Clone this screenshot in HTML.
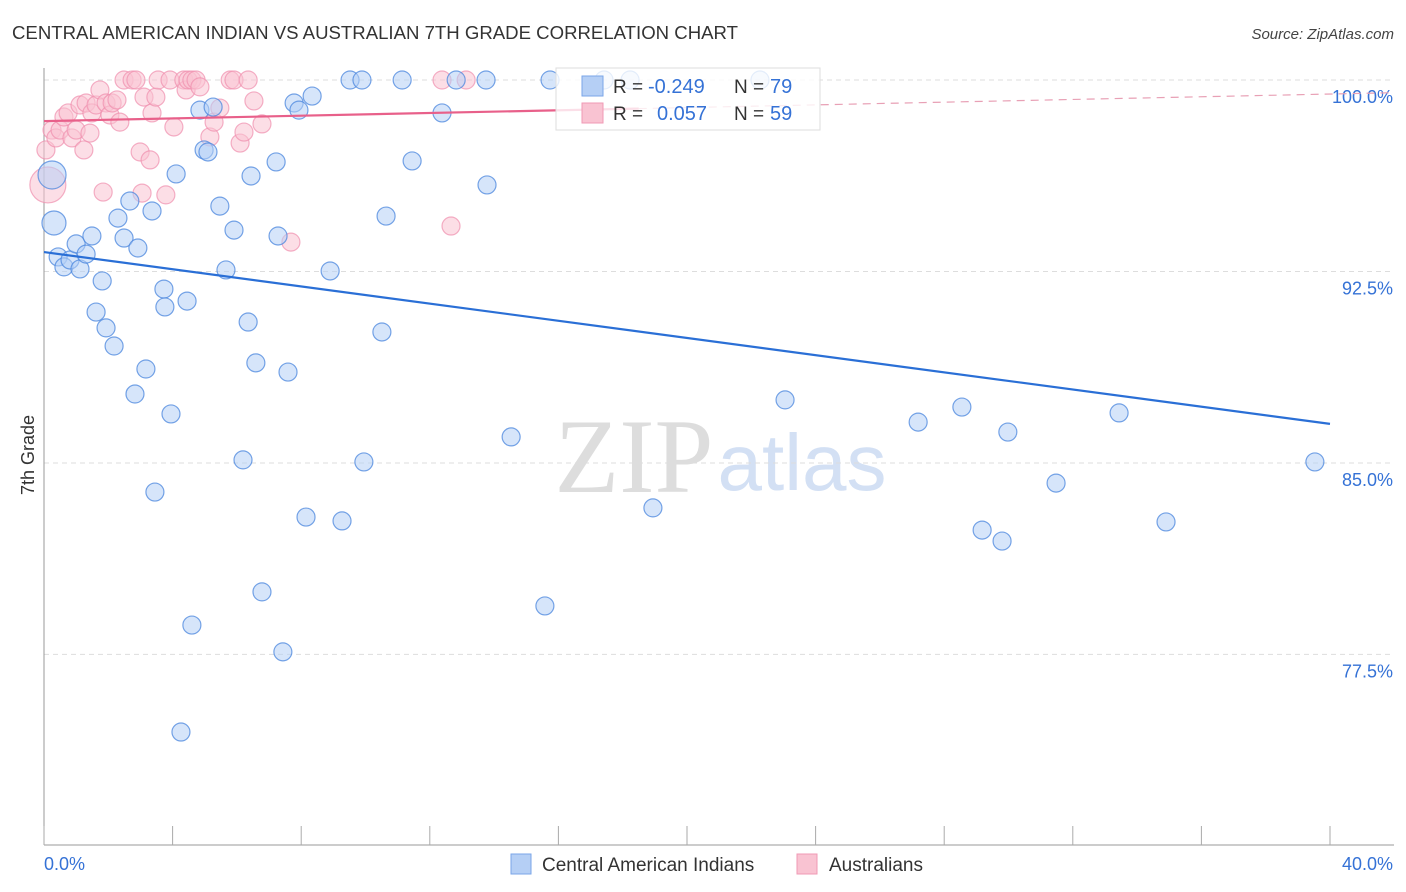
<!DOCTYPE html>
<html><head><meta charset="utf-8"><style>
body{margin:0;background:#fff;font-family:"Liberation Sans",sans-serif;}
#wrap{position:relative;width:1406px;height:892px;overflow:hidden;}
</style></head><body>
<div id="wrap">
<svg id="svg" width="1406" height="892" xmlns="http://www.w3.org/2000/svg">
<text x="12" y="39" font-size="18.6" fill="#333">CENTRAL AMERICAN INDIAN VS AUSTRALIAN 7TH GRADE CORRELATION CHART</text>
<text x="1394" y="39" font-size="15" fill="#444" text-anchor="end" font-style="italic">Source: ZipAtlas.com</text>
<text x="634" y="492" font-size="106" fill="#ddd" font-family="Liberation Serif,serif" text-anchor="middle">ZIP</text>
<text x="802" y="490" font-size="80" fill="#d3e0f4" text-anchor="middle">atlas</text>
<g id="grid"></g>
<g id="axes"></g>
<g id="pts"></g>
<g id="lines"></g>
<text x="34" y="455" font-size="18" fill="#333" text-anchor="middle" transform="rotate(-90 34 455)">7th Grade</text>
<g>
<rect x="556" y="68" width="264" height="62" fill="#fff" fill-opacity="0.8" stroke="#ddd"/>
<rect x="582" y="76" width="21" height="20" fill="#b5cff5" stroke="#7aa6e8"/>
<rect x="582" y="103" width="21" height="20" fill="#f9c3d2" stroke="#f09ab4"/>
<text x="613" y="93" font-size="19" fill="#333">R = </text><text x="648" y="93" font-size="20" fill="#3572d6">-0.249</text>
<text x="734" y="93" font-size="19" fill="#333">N = </text><text x="770" y="93" font-size="20" fill="#3572d6">79</text>
<text x="613" y="120" font-size="19" fill="#333">R = </text><text x="657" y="120" font-size="20" fill="#3572d6">0.057</text>
<text x="734" y="120" font-size="19" fill="#333">N = </text><text x="770" y="120" font-size="20" fill="#3572d6">59</text>
</g>
<g>
<rect x="511" y="854" width="20" height="20" fill="#b5cff5" stroke="#7aa6e8"/>
<text x="542" y="871" font-size="19" fill="#333">Central American Indians</text>
<rect x="797" y="854" width="20" height="20" fill="#f9c3d2" stroke="#f09ab4"/>
<text x="829" y="871" font-size="19" fill="#333">Australians</text>
</g>
</svg>
</div>
<script>
const yTicks=[100,92.5,85,77.5];
const yTickLabels=["100.0%","92.5%","85.0%","77.5%"];
const xTickLabels=["0.0%","40.0%"];
const blueX=[0.25,0.31,0.44,0.62,0.81,1.0,1.12,1.31,1.49,1.62,1.81,1.93,2.18,2.3,2.49,2.67,2.83,2.92,3.17,3.36,3.45,3.73,3.76,3.95,4.11,4.26,4.45,4.6,4.85,4.98,5.1,5.26,5.47,5.66,5.91,6.19,6.35,6.44,6.59,6.78,7.22,7.28,7.43,7.59,7.78,7.93,8.15,8.34,8.9,9.27,9.52,9.89,9.95,10.51,10.64,11.14,11.45,12.38,12.82,13.75,13.78,14.53,15.58,15.74,17.42,18.23,18.94,22.27,23.05,27.19,28.55,29.18,29.8,29.98,31.48,33.44,34.9,39.53];
const blueY=[96.28,94.4,93.07,92.68,92.95,93.58,92.6,93.18,93.89,90.91,92.13,90.29,89.58,94.59,93.81,95.26,87.7,93.42,88.68,94.87,83.86,91.81,91.11,86.92,96.32,74.46,91.34,78.65,98.82,97.26,97.18,98.94,95.06,92.56,94.12,85.12,90.52,96.24,88.92,79.95,96.79,93.89,77.6,88.56,99.1,98.82,82.88,99.37,92.52,82.73,100,100,85.04,90.13,94.67,100,96.83,98.71,100,100,95.89,86.02,79.4,100,100,100,83.24,100,87.47,86.6,87.19,82.37,81.94,86.21,84.21,86.96,82.69,85.04];
const blueSize=[14,12];
const pinkX=[0.12,0.06,0.25,0.37,0.5,0.62,0.75,0.87,1.0,1.12,1.24,1.31,1.43,1.49,1.62,1.74,1.84,1.93,2.05,2.12,2.27,2.36,2.49,2.74,2.86,2.99,3.05,3.11,3.3,3.36,3.48,3.55,3.79,3.92,4.04,4.35,4.42,4.48,4.6,4.73,4.85,5.16,5.29,5.47,5.79,5.91,6.1,6.22,6.35,6.53,6.78,7.68,12.38,12.66,13.13];
const pinkY=[95.89,97.26,98.04,97.73,98.04,98.55,98.71,97.73,98.04,99.02,97.26,99.1,97.92,98.71,99.02,99.61,95.61,99.1,98.63,99.1,99.22,98.35,100,100,100,97.18,95.57,99.33,96.87,98.71,99.33,100,95.5,100,98.16,100,99.61,100,100,100,99.73,97.77,98.35,98.9,100,100,97.53,97.96,100,99.18,98.28,93.65,100,94.28,100];
const pinkSize=[18];
const blueTrend=[93.26,86.53];
const pinkTrend=[98.39,99.45];
const X=v=>44+v/40*1286;
const Y=v=>80+(100-v)*25.53;
const NS="http://www.w3.org/2000/svg";
function mk(tag,attrs,parent){const e=document.createElementNS(NS,tag);for(const k in attrs)e.setAttribute(k,attrs[k]);document.getElementById(parent).appendChild(e);return e;}
yTicks.forEach((t,i)=>{
 const g=mk('line',{x1:44,x2:1394,y1:Y(t),y2:Y(t),stroke:'#ddd','stroke-dasharray':'5,4'},'grid');
 
 
 const tx=mk('text',{x:1393,y:Y(t)+23,'font-size':18,fill:'#3572d6','text-anchor':'end'},'axes');
 tx.textContent=yTickLabels[i];
 
 
});
const ax=mk('line',{x1:44,x2:44,y1:68,y2:845,stroke:'#999'},'axes');


const bx=mk('line',{x1:44,x2:1394,y1:845,y2:845,stroke:'#999'},'axes');


for(let i=0;i<=10;i++){
 const tk=mk('line',{x1:X(i*4),x2:X(i*4),y1:826,y2:845,stroke:'#aaa'},'axes');
 
 
}
const xl0=mk('text',{x:44,y:870,'font-size':18,fill:'#3572d6'},'axes');xl0.textContent=xTickLabels[0];


const xl1=mk('text',{x:1393,y:870,'font-size':18,fill:'#3572d6','text-anchor':'end'},'axes');xl1.textContent=xTickLabels[1];


pinkX.forEach((v,i)=>{
 const c=mk('circle',{cx:X(v),cy:Y(pinkY[i]),r:pinkSize[i]||9,fill:'#f9c3d2','fill-opacity':0.55,stroke:'#f08fae','stroke-opacity':0.7,'stroke-width':1.2},'pts');
 
 
});
blueX.forEach((v,i)=>{
 const c=mk('circle',{cx:X(v),cy:Y(blueY[i]),r:blueSize[i]||9,fill:'#b5cff5','fill-opacity':0.55,stroke:'#4a86dd','stroke-opacity':0.75,'stroke-width':1.2},'pts');
 
 
});
const bl=mk('line',{x1:X(0),y1:Y(blueTrend[0]),x2:X(40),y2:Y(blueTrend[1]),stroke:'#2a6fd6','stroke-width':2.2},'lines');


const px=18.5, py=pinkTrend[0]+(pinkTrend[1]-pinkTrend[0])*px/40;
const pl=mk('line',{x1:X(0),y1:Y(pinkTrend[0]),x2:X(px),y2:Y(py),stroke:'#e8608a','stroke-width':2.2},'lines');


const pd=mk('line',{x1:X(px),y1:Y(py),x2:X(42),y2:Y(pinkTrend[0]+(pinkTrend[1]-pinkTrend[0])*42/40),stroke:'#e8a0b5','stroke-width':1.2,'stroke-dasharray':'8,6'},'lines');


</script>
</body></html>
